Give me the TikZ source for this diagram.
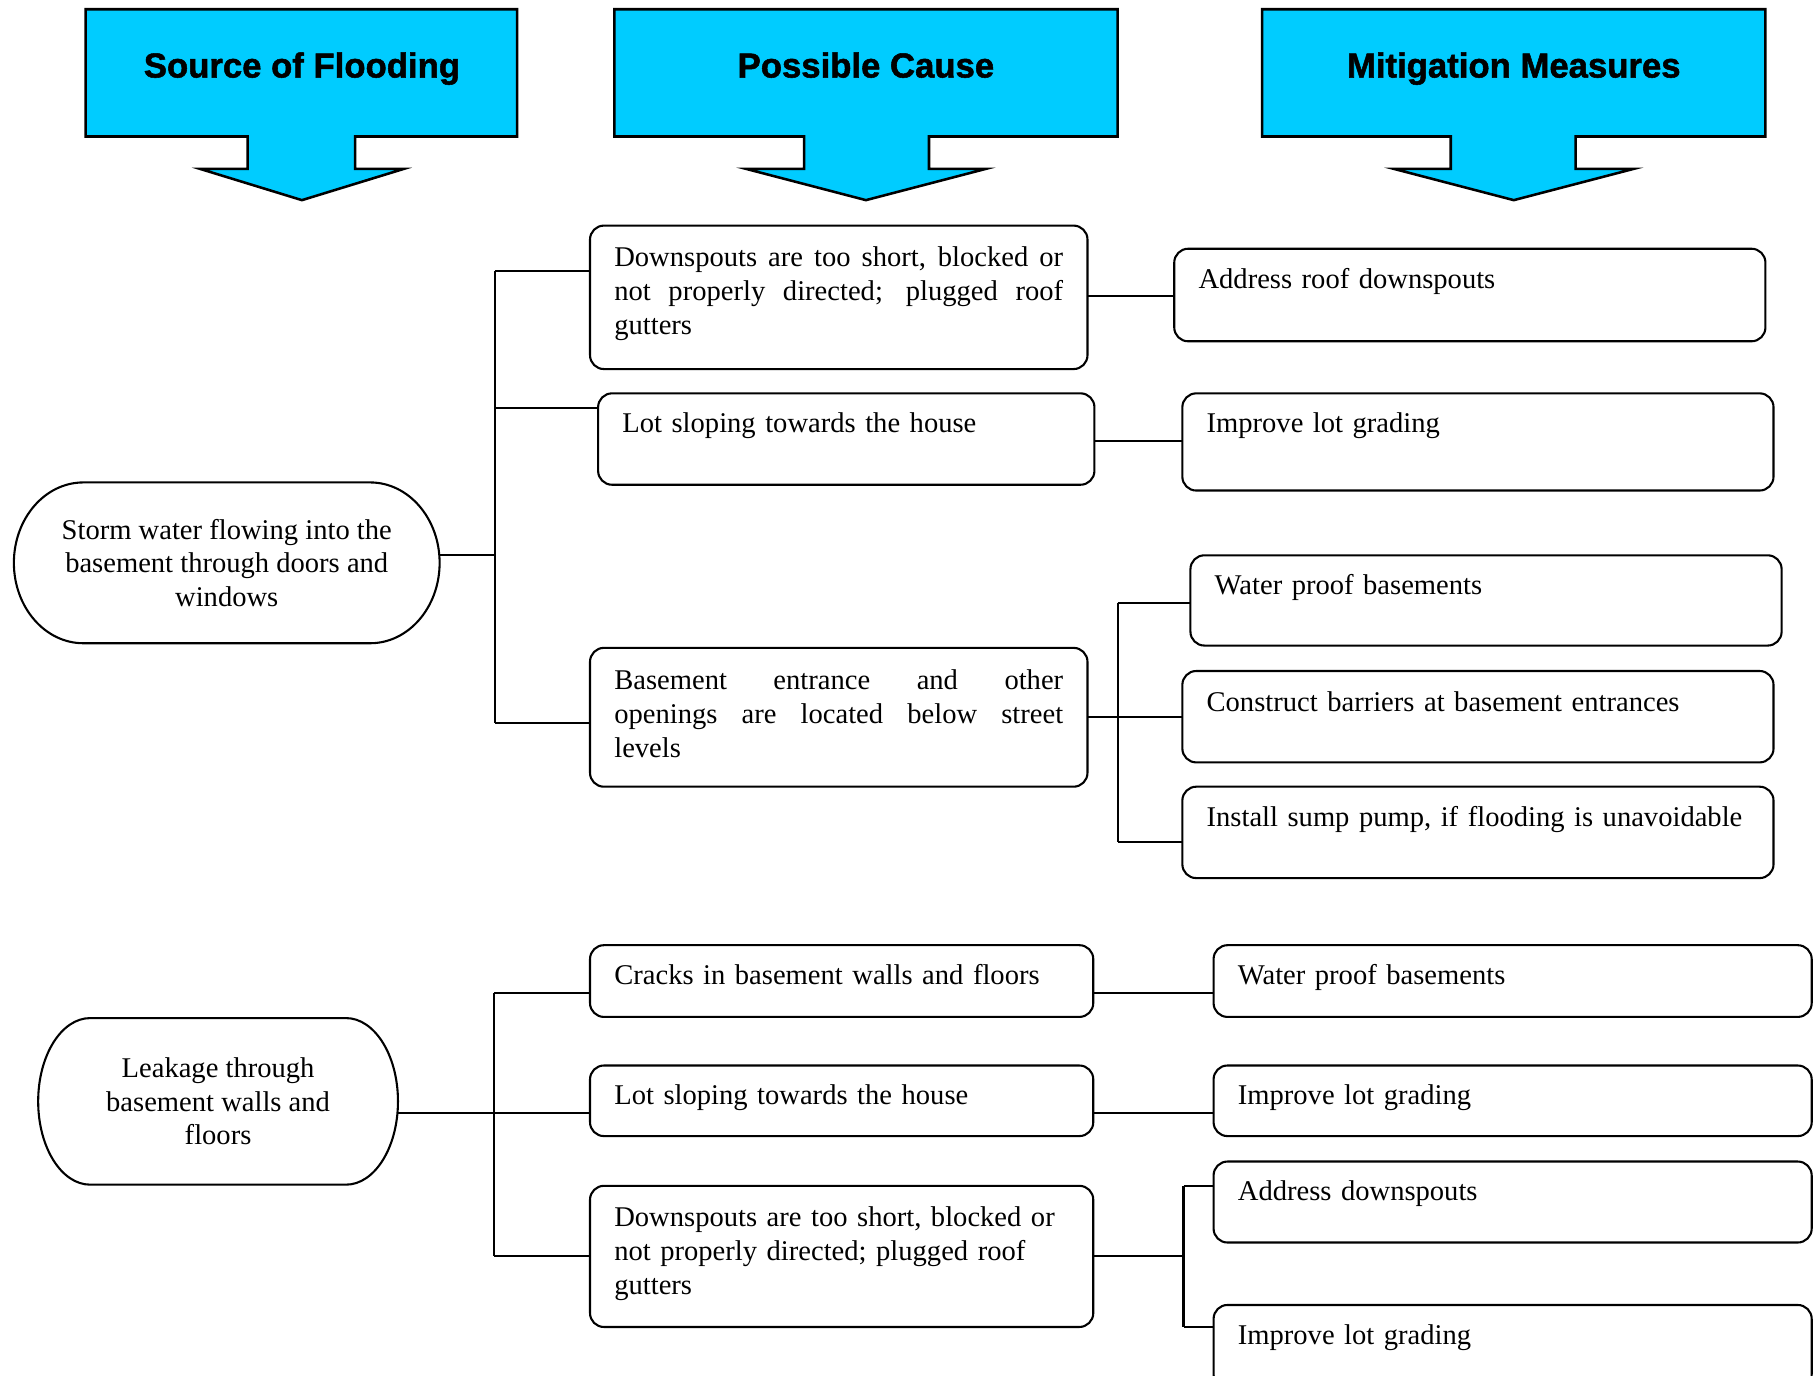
\documentclass[tikz,border=0pt]{standalone}
\usepackage{fontspec}
\setmainfont{Liberation Serif}
\newfontfamily\hdfont{Liberation Sans}[BoldFeatures={FakeBold=1.5}]
\definecolor{hdrcyan}{RGB}{0,204,255}
\tikzset{
  box/.style={draw, line width=0.9pt, rounded corners=6pt, anchor=north west,
    inner xsep=10.5pt, inner ysep=0pt, outer sep=0pt,
    font=\fontsize{12.35}{14.7}\selectfont},
  conn/.style={line width=0.9pt},
  stadnode/.style={inner sep=0pt, outer sep=0pt, align=center,
    font=\fontsize{12.35}{14.5}\selectfont},
  stadline/.style={draw, line width=0.9pt},
  hdr/.style={fill=hdrcyan, draw=black, line width=1.1pt, line join=miter},
  hdtext/.style={anchor=base, inner sep=0pt, font=\hdfont\bfseries\fontsize{15}{18}\selectfont},
}
\newcommand\bx[8][left]{%
  \pgfmathsetmacro\bxw{(#5-#3)*0.5-21}%
  \pgfmathsetmacro\bxh{(#7-#4)*0.5}%
  \pgfmathsetmacro\bxd{(#6-#7)*0.5}%
  \node[box, align=#1, text width=\bxw pt, text height=\bxh pt, text depth=\bxd pt] (#2) at (#3,#4) {#8};%
}
\begin{document}
\begin{tikzpicture}[x=0.5pt,y=-0.5pt]
\path[use as bounding box] (0,0) rectangle (1568,1189);
\clip (0,0) rectangle (1568,1189);

% headers
\filldraw[hdr] (74,8) -- (447,8) -- (447,118) -- (307,118) -- (307,146) -- (349,146) -- (261,173)
  -- (173,146) -- (214,146) -- (214,118) -- (74,118) -- cycle;
\node[hdtext] (H1) at (261,67) {Source of Flooding};
\filldraw[hdr] (531,8) -- (966,8) -- (966,118) -- (803,118) -- (803,146) -- (852,146) -- (748.5,173)
  -- (645,146) -- (695,146) -- (695,118) -- (531,118) -- cycle;
\node[hdtext] (H2) at (748.5,67) {Possible Cause};
\filldraw[hdr] (1091,8) -- (1526,8) -- (1526,118) -- (1362,118) -- (1362,146) -- (1412,146) -- (1308.5,173)
  -- (1205,146) -- (1254,146) -- (1254,118) -- (1091,118) -- cycle;
\node[hdtext] (H3) at (1308.5,67) {Mitigation Measures};

% sources
\node[stadnode, minimum width=184pt, minimum height=69.5pt] (S1) at (196,486.5)
  {Storm water flowing into the\\ basement through doors and\\ windows};
\draw[stadline] ([xshift=30pt]S1.north west) -- ([xshift=-30pt]S1.north east)
  arc[start angle=90, end angle=-90, x radius=30pt, y radius=34.75pt]
  -- ([xshift=30pt]S1.south west)
  arc[start angle=270, end angle=90, x radius=30pt, y radius=34.75pt] -- cycle;
\node[stadnode, minimum width=155.5pt, minimum height=72pt] (S2) at (188.5,952)
  {Leakage through\\ basement walls and\\ floors};
\draw[stadline] ([xshift=22.5pt]S2.north west) -- ([xshift=-22.5pt]S2.north east)
  arc[start angle=90, end angle=-90, x radius=22.5pt, y radius=36pt]
  -- ([xshift=22.5pt]S2.south west)
  arc[start angle=270, end angle=90, x radius=22.5pt, y radius=36pt] -- cycle;

% causes and measures, row 1
\bx[justify]{C1}{510}{195}{940}{319}{230}{Downspouts are too short, blocked or\linebreak not properly directed; plugged roof\linebreak gutters}
\bx{C2}{517}{340}{946}{419}{374}{Lot sloping towards the house}
\bx[justify]{C3}{510}{560}{940}{680}{596}{Basement entrance and other\linebreak openings are located below street\linebreak levels}
\bx{M1}{1015}{215}{1526}{295}{249}{Address roof downspouts}
\bx{M2}{1022}{340}{1533}{424}{374}{Improve lot grading}
\bx{M3}{1029}{480}{1540}{558}{514}{Water proof basements}
\bx{M4}{1022}{580}{1533}{659}{615}{Construct barriers at basement entrances}
\bx{M5}{1022}{680}{1533}{759}{714}{\mbox{Install sump pump, if flooding is unavoidable}}

% row 2
\bx{D1}{510}{817}{945}{879}{851}{Cracks in basement walls and floors}
\bx{D2}{510}{921}{945}{982}{955}{Lot sloping towards the house}
\bx{D3}{510}{1025}{945}{1147}{1060}{Downspouts are too short, blocked or\\ not properly directed; plugged roof\\ gutters}
\bx{N1}{1049}{817}{1566}{879}{851}{Water proof basements}
\bx{N2}{1049}{921}{1566}{982}{955}{Improve lot grading}
\bx{N3}{1049}{1004}{1566}{1074}{1038}{Address downspouts}
\bx{N4}{1049}{1128}{1566}{1200}{1162}{Improve lot grading}

% connectors row 1
\coordinate (ya) at (428,234);
\coordinate (yb) at (428,353);
\coordinate (yc) at (428,480);
\coordinate (yd) at (428,625);
\draw[conn] (ya) -- (yd);
\draw[conn] (ya) -- (ya -| C1.west);
\draw[conn] (yb) -- (yb -| C2.west);
\draw[conn] (S1.east |- yc) -- (yc);
\draw[conn] (yd) -- (yd -| C3.west);
\coordinate (r1) at (0,256);
\coordinate (r2) at (0,381);
\draw[conn] (C1.east |- r1) -- (M1.west |- r1);
\draw[conn] (C2.east |- r2) -- (M2.west |- r2);
\coordinate (ka) at (966,521);
\coordinate (kb) at (966,620);
\coordinate (kc) at (966,728);
\draw[conn] (ka) -- (kc);
\draw[conn] (ka) -- (ka -| M3.west);
\draw[conn] (C3.east |- kb) -- (M4.west |- kb);
\draw[conn] (kc) -- (kc -| M5.west);

% connectors row 2
\coordinate (qa) at (427,858);
\coordinate (qb) at (427,962);
\coordinate (qc) at (427,1086);
\draw[conn] (qa) -- (qc);
\draw[conn] (qa) -- (qa -| D1.west);
\draw[conn] (S2.east |- qb) -- (D2.west |- qb);
\draw[conn] (qc) -- (qc -| D3.west);
\draw[conn] (D1.east |- qa) -- (N1.west |- qa);
\draw[conn] (D2.east |- qb) -- (N2.west |- qb);
\coordinate (pa) at (1023,1025);
\coordinate (pb) at (1023,1086);
\coordinate (pc) at (1023,1147);
\draw[conn] (pa) -- (pc);
\draw[conn] (D3.east |- pb) -- (pb);
\draw[conn] (pa) -- (pa -| N3.west);
\draw[conn] (pc) -- (pc -| N4.west);
\end{tikzpicture}
\end{document}
